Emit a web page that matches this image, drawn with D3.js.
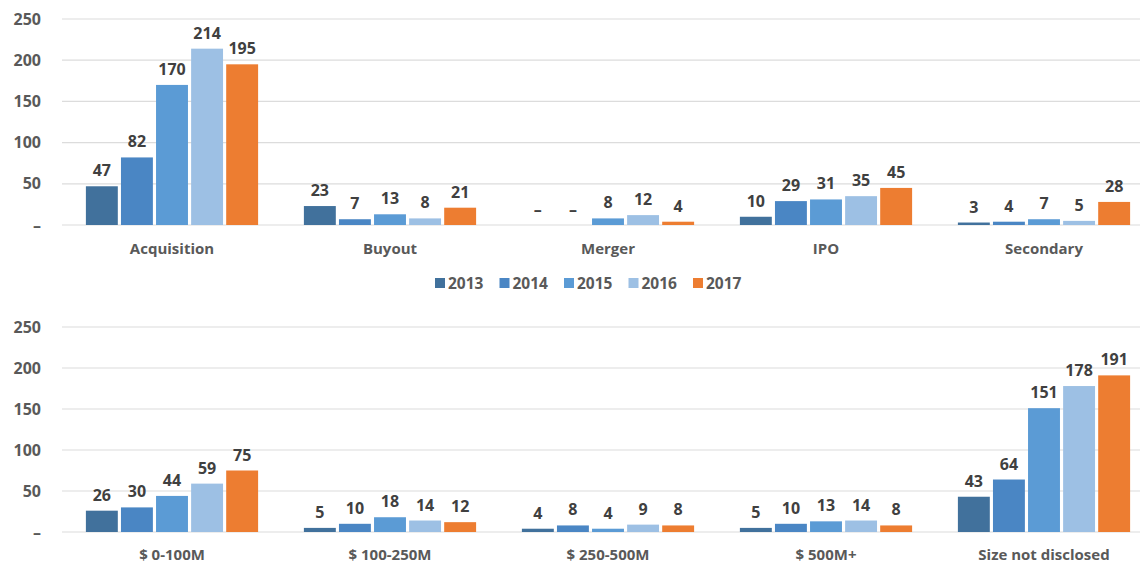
<!DOCTYPE html>
<html><head><meta charset="utf-8">
<script src="https://cdn.jsdelivr.net/npm/d3@7/dist/d3.min.js"></script>
<style>body{margin:0;background:#fff}svg{display:block}</style>
</head><body>
<svg id="c" width="1142" height="563"></svg>
<script>
const years = ["2013","2014","2015","2016","2017"];
const colors = ["#41719c","#4a86c4","#5b9bd5","#9dc0e4","#ed7d31"];
const topCategories = ["Acquisition","Buyout","Merger","IPO","Secondary"];
const topValues = [
  [47,82,170,214,195],
  [23,7,13,8,21],
  [0,0,8,12,4],
  [10,29,31,35,45],
  [3,4,7,5,28]
];
const bottomCategories = ["$ 0-100M","$ 100-250M","$ 250-500M","$ 500M+","Size not disclosed"];
const bottomValues = [
  [26,30,44,59,75],
  [5,10,18,14,12],
  [4,8,4,9,8],
  [5,10,13,14,8],
  [43,64,151,178,191]
];
const yTicks = [0,50,100,150,200,250];
const tickLabel = v => v === 0 ? "–" : String(v);

const svg = d3.select("#c");
const font = "'Open Sans', 'Noto Sans', sans-serif";

function panel(cats, vals, y0, y1, labelY) {
  const g = svg.append("g");
  const x = d3.scaleBand().domain(cats).range([63, 1153]).paddingInner(0.21).paddingOuter(0.105);
  const xi = d3.scaleBand().domain(years).range([0, x.bandwidth()]).paddingInner(0.09);
  const y = d3.scaleLinear().domain([0, 250]).range([y1, y0]);
  g.selectAll("line.grid").data(yTicks).join("line")
    .attr("x1", 62).attr("x2", 1140)
    .attr("y1", d => y(d)).attr("y2", d => y(d))
    .attr("stroke", "#dcdcdc").attr("stroke-width", 1.2);
  const ax = d3.axisLeft(y).tickValues(yTicks).tickFormat(tickLabel).tickSize(0).tickPadding(0);
  const ag = g.append("g").attr("transform", "translate(41,0)").call(ax);
  ag.select(".domain").remove();
  ag.selectAll("text").attr("font-family", font).attr("font-size", 16).attr("font-weight", 700).attr("fill", "#595959");
  const groups = g.selectAll("g.cat").data(cats).join("g")
    .attr("transform", d => `translate(${x(d)},0)`);
  groups.each(function(c, ci) {
    const gg = d3.select(this);
    const data = vals[ci].map((v, i) => ({v, yr: years[i], i}));
    gg.selectAll("rect").data(data).join("rect")
      .attr("x", d => xi(d.yr)).attr("width", xi.bandwidth())
      .attr("y", d => y(d.v)).attr("height", d => y(0) - y(d.v))
      .attr("fill", d => colors[d.i]);
    gg.selectAll("text").data(data).join("text")
      .attr("x", d => xi(d.yr) + xi.bandwidth()/2)
      .attr("y", d => y(d.v) - 10)
      .attr("text-anchor", "middle")
      .attr("font-family", font).attr("font-size", 16).attr("font-weight", 700).attr("fill", "#404040")
      .text(d => d.v === 0 ? "–" : d.v);
  });
  g.selectAll("text.cat").data(cats).join("text").attr("class", "cat")
    .attr("x", d => x(d) + x.bandwidth()/2).attr("y", labelY)
    .attr("text-anchor", "middle")
    .attr("font-family", font).attr("font-size", 15).attr("font-weight", 700).attr("fill", "#595959")
    .text(d => d);
}

panel(topCategories, topValues, 19, 225, 254);
panel(bottomCategories, bottomValues, 327, 532, 560);

const lg = svg.append("g");
const lx = d3.scaleLinear().domain([0, 4]).range([435, 693]);
years.forEach((yr, i) => {
  lg.append("rect").attr("x", lx(i)).attr("y", 278).attr("width", 10).attr("height", 10).attr("fill", colors[i]);
  lg.append("text").attr("x", lx(i) + 13).attr("y", 289)
    .attr("font-family", font).attr("font-size", 15.5).attr("font-weight", 700).attr("fill", "#595959").text(yr);
});
</script>
</body></html>
